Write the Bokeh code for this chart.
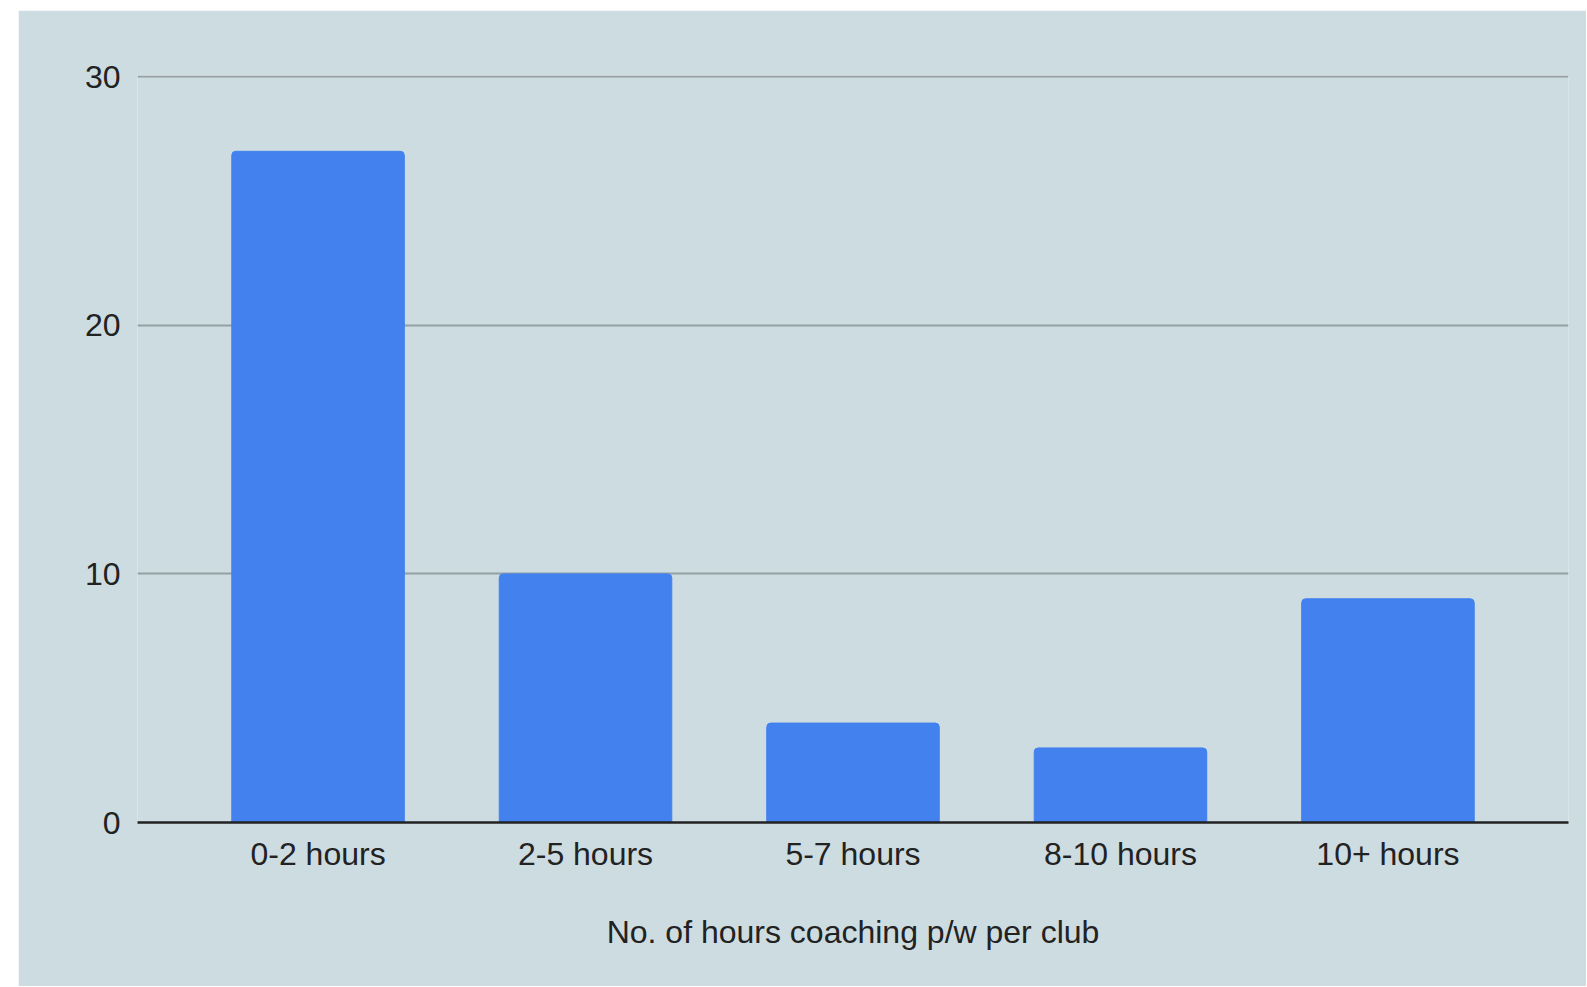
from bokeh.plotting import figure
from bokeh.models import FactorRange, Range1d, FixedTicker
from bokeh.embed import file_html
from bokeh.resources import INLINE

categories = ["0-2 hours", "2-5 hours", "5-7 hours", "8-10 hours", "10+ hours"]
counts = [27, 10, 4, 3, 9]
y_ticks = [0, 10, 20, 30]
x_title = "No. of hours coaching p/w per club"

BG = "#CDDCE1"
FONT = "Liberation Sans"

p = figure(
    x_range=FactorRange(factors=categories, range_padding=0.07),
    y_range=Range1d(0, 30.05),
    width=1568, height=976,
    output_backend="svg", toolbar_location=None,
    min_border_left=119, min_border_right=18,
    min_border_top=65, min_border_bottom=164,
)
p.margin = (10, 0, 0, 18)
p.background_fill_color = BG
p.border_fill_color = BG
p.outline_line_color = None

p.vbar(x=categories, top=counts, width=0.645, color="#4281EE",
       border_radius=(4, 4, 0, 0))

p.xgrid.grid_line_color = None
p.ygrid.grid_line_color = "#94A0A4"
p.ygrid.grid_line_width = 2
p.yaxis.ticker = FixedTicker(ticks=y_ticks)

p.yaxis.axis_line_color = None
p.yaxis.major_tick_line_color = None
p.yaxis.minor_tick_line_color = None
p.yaxis.major_tick_out = 0
p.yaxis.major_tick_in = 0
p.yaxis.major_label_text_font = FONT
p.yaxis.major_label_text_font_size = "32px"
p.yaxis.major_label_text_color = "#222222"
p.yaxis.major_label_standoff = 17

p.xaxis.axis_line_color = "#222222"
p.xaxis.axis_line_width = 2.5
p.xaxis.major_tick_line_color = None
p.xaxis.minor_tick_line_color = None
p.xaxis.major_tick_out = 0
p.xaxis.major_tick_in = 0
p.xaxis.major_label_text_font = FONT
p.xaxis.major_label_text_font_size = "32px"
p.xaxis.major_label_text_color = "#222222"
p.xaxis.major_label_standoff = 13
p.xaxis.axis_label = x_title
p.xaxis.axis_label_text_font = FONT
p.xaxis.axis_label_text_font_size = "32px"
p.xaxis.axis_label_text_font_style = "normal"
p.xaxis.axis_label_text_color = "#222222"
p.xaxis.axis_label_standoff = 39

open("out.html", "w").write(file_html(p, INLINE))
